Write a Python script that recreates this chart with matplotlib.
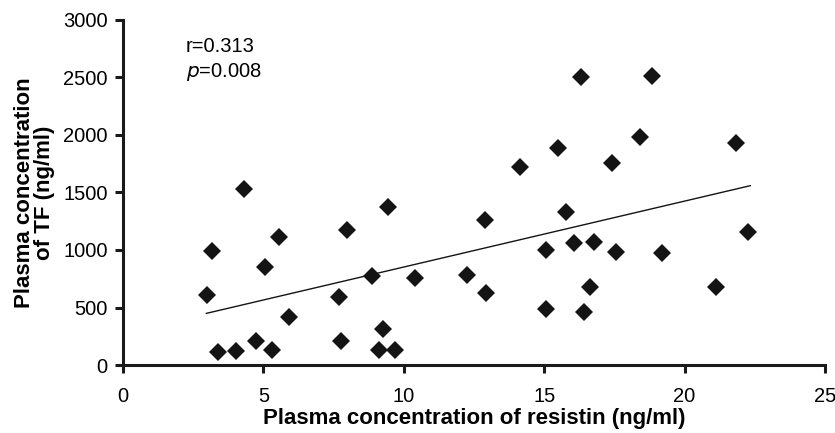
import matplotlib.pyplot as plt

plt.rcParams['font.family'] = ['Liberation Sans', 'DejaVu Sans']

# resistin (ng/ml) vs TF (ng/ml)
resistin = [2.99, 3.18, 3.40, 4.04, 4.30, 4.73, 5.06, 5.32, 5.56, 5.91,
            7.68, 7.78, 7.96, 8.87, 9.12, 9.26, 9.44, 9.70, 10.39, 12.25,
            12.88, 12.92, 14.13, 15.05, 15.08, 15.49, 15.77, 16.05, 16.32, 16.42,
            16.62, 16.77, 17.40, 17.57, 18.40, 18.84, 19.21, 21.11, 21.84, 22.26]
tf = [609, 994, 110, 124, 1528, 209, 855, 130, 1116, 415,
      594, 209, 1174, 774, 130, 313, 1377, 130, 754, 783,
      1265, 629, 1725, 1000, 490, 1884, 1333, 1058, 2502, 464,
      676, 1072, 1759, 980, 1980, 2513, 977, 676, 1933, 1154]

# regression line as drawn
fit_x = [2.97, 22.34]
fit_y = [449, 1559]

fig = plt.figure(figsize=(8.35, 4.33), dpi=100)
ax = fig.add_axes([0.1473, 0.157, 0.8407, 0.797])

ax.plot(resistin, tf, linestyle='none', marker='D', markersize=9.6,
        color='#141414', markeredgewidth=0)
ax.plot(fit_x, fit_y, color='#141414', linewidth=1.0)

ax.set_xlim(0, 25)
ax.set_ylim(0, 3000)
ax.set_xticks([0, 5, 10, 15, 20, 25])
ax.set_yticks([0, 500, 1000, 1500, 2000, 2500, 3000])

for side in ['top', 'right']:
    ax.spines[side].set_visible(False)
for side in ['left', 'bottom']:
    ax.spines[side].set_linewidth(2.2)
    ax.spines[side].set_color('#1a1a1a')
ax.tick_params(width=2.2, length=6, labelsize=14.5, color='#1a1a1a', pad=5)
ax.tick_params(axis='x', pad=10)

ax.set_xlabel('Plasma concentration of resistin (ng/ml)', fontsize=16,
              fontweight='bold', labelpad=1)
ax.set_ylabel('Plasma concentration\nof TF (ng/ml)', fontsize=16,
              fontweight='bold', labelpad=6, linespacing=0.95)

ax.text(2.23, 2765, 'r=0.313', fontsize=14.5, va='center')
ax.text(2.23, 2548, '$p$=0.008', fontsize=14.5, va='center')

plt.savefig('out.png', dpi=100)
